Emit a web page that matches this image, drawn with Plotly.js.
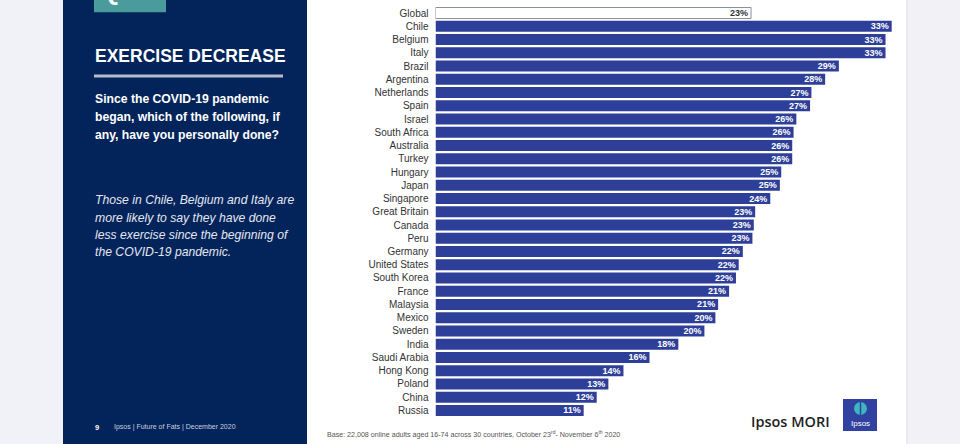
<!DOCTYPE html>
<html>
<head>
<meta charset="utf-8">
<script src="https://cdn.plot.ly/plotly-3.0.1.min.js"></script>
<style>html,body{margin:0;padding:0;background:#fff}#chart{width:960px;height:444px}</style>
</head>
<body>
<div id="chart"></div>
<script>
// ---- data ----
const countries = ["Global","Chile","Belgium","Italy","Brazil","Argentina","Netherlands","Spain","Israel","South Africa","Australia","Turkey","Hungary","Japan","Singapore","Great Britain","Canada","Peru","Germany","United States","South Korea","France","Malaysia","Mexico","Sweden","India","Saudi Arabia","Hong Kong","Poland","China","Russia"];
const values = [23.0,33.25,32.8,32.8,29.4,28.4,27.4,27.3,26.3,26.1,26.0,26.0,25.2,25.1,24.4,23.3,23.2,23.1,22.4,22.1,21.9,21.4,20.6,20.4,19.6,17.7,15.6,13.7,12.6,11.75,10.8];
const labels = ["23%","33%","33%","33%","29%","28%","27%","27%","26%","26%","26%","26%","25%","25%","24%","23%","23%","23%","22%","22%","22%","21%","21%","20%","20%","18%","16%","14%","13%","12%","11%"];

// ---- helpers (pixel -> paper) ----
const W = 960, H = 444;
const px = x => x / W;
const py = y => 1 - y / H;

const BLUE = '#2e3f99';
const NAVY = '#03245a';
const barColors = countries.map((c,i) => i === 0 ? '#ffffff' : BLUE);
const lineColors = countries.map((c,i) => i === 0 ? '#8a8f9e' : BLUE);
const lineWidths = countries.map((c,i) => i === 0 ? 1 : 0);
const textColors = countries.map((c,i) => i === 0 ? '#333333' : '#ffffff');

const x0 = 435.5, pxPerUnit = 13.72, xmax = 35;
const trace = {
  type: 'bar', orientation: 'h',
  y: countries, x: values,
  text: labels, textposition: 'inside', insidetextanchor: 'end',
  constraintext: 'none',
  textfont: {family: 'Liberation Sans, Arial, sans-serif', size: 9, color: textColors, weight: 'bold'},
  marker: {color: barColors, line: {color: lineColors, width: lineWidths}},
  hoverinfo: 'skip', cliponaxis: false
};

const rowTop = 6.4, rowBottom = 417.1;

const shapes = [
  {type:'rect', xref:'paper', yref:'paper', x0:0, x1:px(63), y0:0, y1:1, fillcolor:'#f1f2f7', line:{width:0}, layer:'below'},
  {type:'rect', xref:'paper', yref:'paper', x0:px(63), x1:px(307), y0:0, y1:1, fillcolor:NAVY, line:{width:0}, layer:'below'},
  {type:'rect', xref:'paper', yref:'paper', x0:px(907), x1:1, y0:0, y1:1, fillcolor:'#f2f2f6', line:{width:0}, layer:'below'},
  {type:'line', xref:'paper', yref:'paper', x0:px(907), x1:px(907), y0:0, y1:1, line:{color:'#e4e4ea', width:1.5}, layer:'below'},
  {type:'rect', xref:'paper', yref:'paper', x0:px(94), x1:px(166), y0:py(12.3), y1:1.02, fillcolor:'#4a9c9c', line:{width:0}, layer:'below'},
  {type:'line', xref:'paper', yref:'paper', x0:px(94), x1:px(283), y0:py(76), y1:py(76), line:{color:'#b6bccd', width:3}},
  // Ipsos logo
  {type:'rect', xref:'paper', yref:'paper', x0:px(843), x1:px(877), y0:py(431), y1:py(399), fillcolor:'#3141a0', line:{width:0}},
  {type:'circle', xref:'paper', yref:'paper', x0:px(854), x1:px(867), y0:py(415), y1:py(402), fillcolor:'#3fb5c0', line:{width:0}},
  {type:'line', xref:'paper', yref:'paper', x0:px(860.5), x1:px(860.5), y0:py(416), y1:py(401), line:{color:'#3141a0', width:1.5}}
];

const ann = (x, y, text, opts) => Object.assign({xref:'paper', yref:'paper', x:px(x), y:py(y), text:text, showarrow:false, xanchor:'left', yanchor:'middle'}, opts);
const WHITE = '#ffffff';
const annotations = [
  ann(98, 8, 'Q11', {yanchor:'bottom', font:{family:'Liberation Sans, Arial', size:26, color:WHITE, weight:'bold'}}),
  ann(93, 55.7, 'EXERCISE DECREASE', {font:{family:'Liberation Sans, Arial', size:17.5, color:WHITE, weight:'bold'}}),
  ann(93, 99, 'Since the COVID-19 pandemic', {font:{family:'Liberation Sans, Arial', size:12.2, color:WHITE, weight:'bold'}}),
  ann(93, 116.7, 'began, which of the following, if', {font:{family:'Liberation Sans, Arial', size:12.2, color:WHITE, weight:'bold'}}),
  ann(93, 134.5, 'any, have you personally done?', {font:{family:'Liberation Sans, Arial', size:12.2, color:WHITE, weight:'bold'}}),
  ann(93, 200, 'Those in Chile, Belgium and Italy are', {font:{family:'Liberation Sans, Arial', size:12.2, color:'#e4e7f0', style:'italic'}}),
  ann(93, 217.7, 'more likely to say they have done', {font:{family:'Liberation Sans, Arial', size:12.2, color:'#e4e7f0', style:'italic'}}),
  ann(93, 235, 'less exercise since the beginning of', {font:{family:'Liberation Sans, Arial', size:12.2, color:'#e4e7f0', style:'italic'}}),
  ann(93, 252.3, 'the COVID-19 pandemic.', {font:{family:'Liberation Sans, Arial', size:12.2, color:'#e4e7f0', style:'italic'}}),
  ann(93, 427, '9', {font:{family:'Liberation Sans, Arial', size:7.5, color:WHITE, weight:'bold'}}),
  ann(112, 427, 'Ipsos | Future of Fats | December 2020', {font:{family:'Liberation Sans, Arial', size:7, color:'#c8cee0'}}),
  ann(325, 434, 'Base: 22,008 online adults aged 16-74 across 30 countries, October 23<sup>rd</sup>- November 6<sup>th</sup> 2020', {font:{family:'Liberation Sans, Arial', size:7.1, color:'#555555'}}),
  ann(749, 421, 'Ipsos MORI', {font:{family:'Open Sans, Arial', size:14.5, color:'#1e1e1e', weight:600}}),
  ann(860, 423, 'Ipsos', {xanchor:'center', font:{family:'Liberation Sans, Arial', size:8, color:WHITE}})
];

const layout = {
  width: W, height: H,
  margin: {l:0, r:0, t:0, b:0, pad:0},
  paper_bgcolor: '#ffffff', plot_bgcolor: 'rgba(0,0,0,0)',
  showlegend: false,
  bargap: 0.17,
  xaxis: {domain:[px(x0), px(x0 + xmax*pxPerUnit)], range:[0, xmax], visible:false, fixedrange:true},
  yaxis: {domain:[py(rowBottom), py(rowTop)], range:[30.5, -0.5], type:'category',
          showgrid:false, zeroline:false, showline:false, ticks:'',
          ticklabelstandoff: 6,
          tickfont:{family:'Liberation Sans, Arial, sans-serif', size:10, color:'#333333'}},
  shapes: shapes,
  annotations: annotations,
  font: {family:'Liberation Sans, Arial, sans-serif'}
};

Plotly.newPlot('chart', [trace], layout, {staticPlot:true, displayModeBar:false});
</script>
</body>
</html>
